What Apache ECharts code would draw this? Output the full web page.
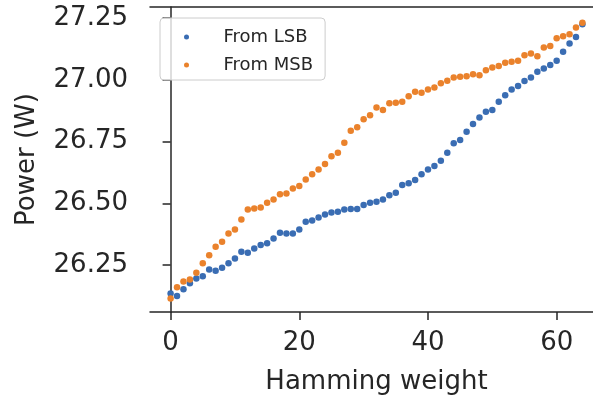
<!DOCTYPE html>
<html>
<head>
<meta charset="utf-8">
<script src="https://cdn.jsdelivr.net/npm/echarts@6/dist/echarts.min.js"></script>
<style>
  html, body { margin: 0; padding: 0; background: #fff; }
  #chart { width: 593px; height: 399px; }
</style>
</head>
<body>
<div id="chart"></div>
<script>
// hamming weight 0..64
const weights = [];
for (let i = 0; i <= 64; i++) weights.push(i);

const fromLSB = [
  26.135, 26.125, 26.152, 26.176, 26.196, 26.205, 26.232, 26.227, 26.239, 26.257,
  26.277, 26.304, 26.300, 26.317, 26.331, 26.338, 26.358, 26.381, 26.378, 26.378,
  26.394, 26.425, 26.430, 26.443, 26.455, 26.463, 26.466, 26.475, 26.477, 26.477,
  26.493, 26.502, 26.506, 26.516, 26.533, 26.543, 26.574, 26.581, 26.594, 26.618,
  26.637, 26.651, 26.672, 26.705, 26.743, 26.756, 26.790, 26.821, 26.848, 26.871,
  26.878, 26.911, 26.938, 26.961, 26.975, 26.995, 27.010, 27.033, 27.046, 27.060,
  27.077, 27.114, 27.147, 27.174, 27.225
];

const fromMSB = [
  26.115, 26.160, 26.183, 26.192, 26.219, 26.257, 26.290, 26.324, 26.344, 26.378,
  26.394, 26.435, 26.475, 26.479, 26.483, 26.502, 26.516, 26.537, 26.540, 26.560,
  26.570, 26.597, 26.618, 26.637, 26.659, 26.691, 26.705, 26.745, 26.794, 26.808,
  26.840, 26.857, 26.888, 26.878, 26.905, 26.907, 26.911, 26.934, 26.952, 26.948,
  26.961, 26.969, 26.986, 26.996, 27.010, 27.013, 27.015, 27.023, 27.019, 27.039,
  27.050, 27.056, 27.069, 27.073, 27.077, 27.100, 27.107, 27.096, 27.131, 27.137,
  27.168, 27.177, 27.185, 27.212, 27.231
];

const xTicks = [0, 20, 40, 60];
const yTicks = [26.25, 26.5, 26.75, 27.0, 27.25];

const font = 'DejaVu Sans';
const ink = '#262626';

const chart = echarts.init(document.getElementById('chart'));

function pairs(ys) {
  return weights.map((x, i) => [x, ys[i]]);
}

chart.setOption({
  animation: false,
  grid: {
    left: 150,
    top: 7,
    width: 453,
    height: 305,
    outerBoundsMode: 'none',
    containLabel: false
  },
  legend: {
    orient: 'vertical',
    left: 160,
    top: 18,
    padding: [9, 12, 5, 24],
    itemWidth: 34,
    itemHeight: 5,
    itemGap: 8,
    backgroundColor: 'rgba(255,255,255,0.8)',
    borderColor: '#cccccc',
    borderWidth: 1,
    borderRadius: 4,
    formatter: name => '{t|' + name + '}',
    textStyle: {
      fontFamily: font,
      fontSize: 18,
      lineHeight: 20,
      color: ink,
      rich: {
        t: { fontFamily: font, fontSize: 18, lineHeight: 20, color: ink, padding: [0, 0, 0, 15] }
      }
    },
    data: [
      { name: 'From LSB', icon: 'circle' },
      { name: 'From MSB', icon: 'circle' }
    ]
  },
  xAxis: [
    {
      type: 'value',
      min: -3.2,
      max: 67.2,
      name: 'Hamming weight',
      nameLocation: 'middle',
      nameGap: 57,
      nameTextStyle: { fontFamily: font, fontSize: 26, color: ink },
      axisLine: { show: true, lineStyle: { color: ink, width: 1.5 } },
      axisTick: { show: true, length: 8, lineStyle: { color: ink, width: 1.5 }, customValues: xTicks },
      axisLabel: {
        fontFamily: font, fontSize: 26, color: ink, margin: 18,
        customValues: xTicks,
        formatter: v => String(v)
      },
      splitLine: { show: false }
    },
    {
      // top spine only
      type: 'value',
      position: 'top',
      min: -3.2,
      max: 67.2,
      axisLine: { show: true, lineStyle: { color: ink, width: 1.5 } },
      axisTick: { show: false },
      axisLabel: { show: false },
      splitLine: { show: false }
    }
  ],
  yAxis: {
    type: 'value',
    min: 26.06,
    max: 27.295,
    name: 'Power (W)',
    nameLocation: 'middle',
    nameGap: 110,
    nameTextStyle: { fontFamily: font, fontSize: 26, color: ink },
    axisLine: { show: true, lineStyle: { color: ink, width: 1.5 } },
    axisTick: { show: true, length: 8, lineStyle: { color: ink, width: 1.5 }, customValues: yTicks },
    axisLabel: {
      fontFamily: font, fontSize: 26, color: ink, margin: 22,
      customValues: yTicks,
      formatter: v => v.toFixed(2)
    },
    splitLine: { show: false }
  },
  series: [
    {
      name: 'From LSB',
      type: 'scatter',
      symbolSize: 6.5,
      itemStyle: { color: '#3a6db3', opacity: 1 },
      data: pairs(fromLSB)
    },
    {
      name: 'From MSB',
      type: 'scatter',
      symbolSize: 6.5,
      itemStyle: { color: '#ea822c', opacity: 1 },
      data: pairs(fromMSB)
    }
  ]
});
</script>
</body>
</html>
